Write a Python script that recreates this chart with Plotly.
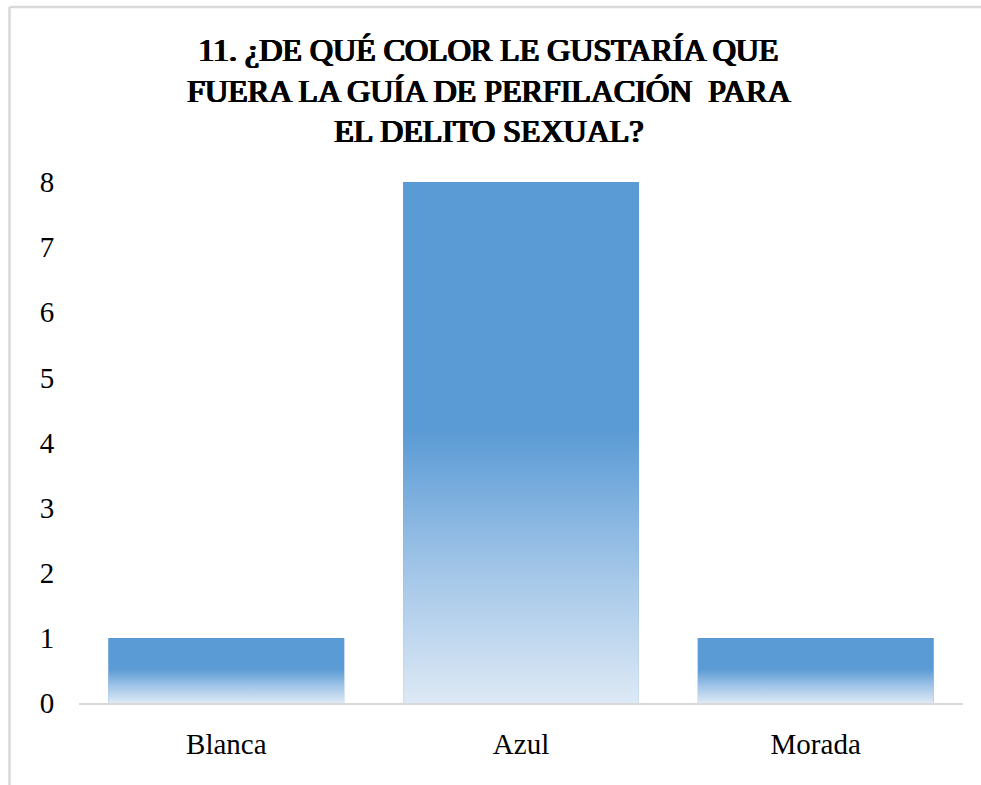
import plotly.graph_objects as go

# ---- data ----
categories = ["Blanca", "Azul", "Morada"]
values = [1, 8, 1]
y_ticks = [0, 1, 2, 3, 4, 5, 6, 7, 8]
title_lines = ["11. ¿DE QUÉ COLOR LE GUSTARÍA QUE",
               "FUERA LA GUÍA DE PERFILACIÓN\u00a0 PARA",
               "EL DELITO SEXUAL?"]

# ---- style ----
W, H = 981, 785
ML, MR, MT, MB = 79, 18, 182, 82
FONT = "Liberation Serif"
SOLID = "#5B9BD5"
LIGHT = "#DDE9F5"
BAR_W = 0.8
BORDER = "#D9D9D9"
TITLE_SIZE = 32
TITLE_CENTER_PX = 488
TITLE_LINE_MID_PX = [50, 91, 131]
# thicken the regular serif face so it reads as bold
TITLE_SHADOW = "0.7px 0 0 black, -0.7px 0 0 black, 0 0.4px 0 black, 1.2px 0 0 black"

x_pos = list(range(len(categories)))

fig = go.Figure()
fig.add_trace(go.Bar(x=x_pos, y=values, width=BAR_W,
                     marker=dict(color=SOLID, line=dict(width=0)),
                     hoverinfo="skip", showlegend=False))

# gradient overlay for each bar (geometry derived from the data)
for xi, v in zip(x_pos, values):
    xs = [xi - BAR_W / 2, xi + BAR_W / 2, xi + BAR_W / 2, xi - BAR_W / 2, xi - BAR_W / 2]
    ys = [0, 0, v, v, 0]
    fig.add_trace(go.Scatter(
        x=xs, y=ys, mode="lines", fill="toself",
        line=dict(width=0, color="rgba(0,0,0,0)"),
        fillgradient=dict(type="vertical",
                          colorscale=[[0.0, LIGHT], [0.25, "#A3C6E8"], [0.52, SOLID], [1.0, SOLID]]),
        hoverinfo="skip", showlegend=False))

plot_w = W - ML - MR
plot_h = H - MT - MB

def px_to_paper_x(px):
    return (px - ML) / plot_w

def px_to_paper_y(py):
    return (H - MB - py) / plot_h

shapes = [
    dict(type="line", xref="paper", yref="paper",
         x0=px_to_paper_x(9.5), x1=px_to_paper_x(W + 10),
         y0=px_to_paper_y(7), y1=px_to_paper_y(7),
         line=dict(color=BORDER, width=2.5), layer="below"),
    dict(type="line", xref="paper", yref="paper",
         x0=px_to_paper_x(9.5), x1=px_to_paper_x(9.5),
         y0=px_to_paper_y(7), y1=px_to_paper_y(H + 10),
         line=dict(color=BORDER, width=2.5), layer="below"),
]

annotations = [
    dict(text=line, xref="paper", yref="paper",
         x=px_to_paper_x(TITLE_CENTER_PX), y=px_to_paper_y(mid),
         xanchor="center", yanchor="middle", showarrow=False,
         font=dict(family=FONT, size=TITLE_SIZE, color="black", shadow=TITLE_SHADOW))
    for line, mid in zip(title_lines, TITLE_LINE_MID_PX)
]

fig.update_layout(
    width=W, height=H,
    margin=dict(l=ML, r=MR, t=MT, b=MB, pad=0),
    paper_bgcolor="white", plot_bgcolor="white",
    font=dict(family=FONT, color="black", size=29),
    bargap=0.2,
    showlegend=False,
    shapes=shapes,
    annotations=annotations,
    xaxis=dict(range=[-0.5, len(categories) - 0.5], tickvals=x_pos, ticktext=categories,
               showgrid=False, zeroline=False, showline=True, linecolor=BORDER, linewidth=1.5,
               ticks="outside", ticklen=14, tickcolor="rgba(0,0,0,0)",
               tickfont=dict(family=FONT, size=29, color="black")),
    yaxis=dict(range=[0, 8], tickvals=y_ticks, ticktext=[str(t) for t in y_ticks],
               showgrid=False, zeroline=False, showline=False,
               ticks="outside", ticklen=18, tickcolor="rgba(0,0,0,0)",
               tickfont=dict(family=FONT, size=29, color="black")),
)

fig.write_html("out.html", config={"displayModeBar": False},
               post_script="document.body.style.margin='0';")
